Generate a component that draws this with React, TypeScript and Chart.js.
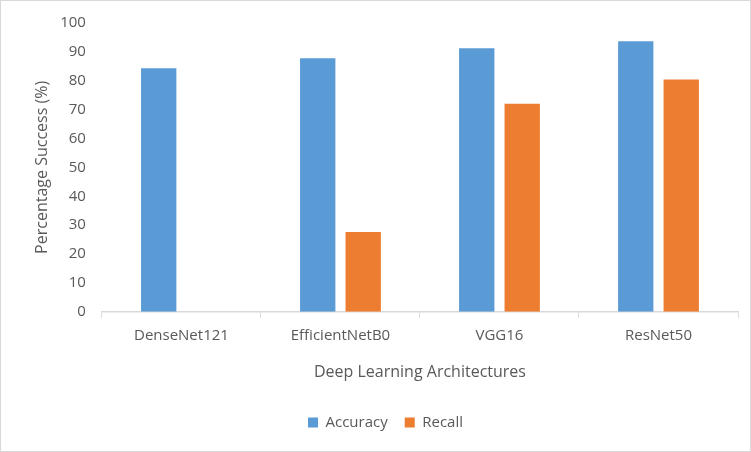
import { Chart, registerables } from "chart.js";
import React, { useEffect, useRef } from "react";

Chart.register(...registerables);

const architectures = ["DenseNet121", "EfficientNetB0", "VGG16", "ResNet50"];
const accuracyValues = [84.3, 87.8, 91.3, 93.7];
const recallValues = [null, 27.6, 72.0, 80.4];

const textColor = "#595959";
const lineColor = "#d9d9d9";
const fontFamily = "'Open Sans', 'Noto Sans', sans-serif";

const App: React.FC = () => {
  const canvasRef = useRef<HTMLCanvasElement>(null);
  const chartInstance = useRef<Chart | null>(null);

  useEffect(() => {
    const ctx = canvasRef.current?.getContext("2d");
    if (!ctx) return;

    if (chartInstance.current) {
      chartInstance.current.destroy();
    }

    chartInstance.current = new Chart(ctx, {
      type: "bar",
      data: {
        labels: architectures,
        datasets: [
          {
            label: "Accuracy",
            data: accuracyValues,
            backgroundColor: "#5b9bd5",
            categoryPercentage: 0.572,
            barPercentage: 0.777,
          },
          {
            label: "Recall",
            data: recallValues as any,
            backgroundColor: "#ed7d31",
            categoryPercentage: 0.572,
            barPercentage: 0.777,
          },
        ],
      },
      options: {
        responsive: true,
        maintainAspectRatio: false,
        animation: false,
        layout: {
          padding: { top: 22, right: 12, left: 32, bottom: 11 },
        },
        scales: {
          x: {
            grid: {
              offset: true,
              drawOnChartArea: false,
              color: lineColor,
              tickLength: 6,
            },
            border: { color: lineColor, width: 1.5 },
            ticks: {
              color: textColor,
              font: { family: fontFamily, size: 15 },
              padding: 9,
            },
            title: {
              display: true,
              text: "Deep Learning Architectures",
              color: textColor,
              font: { family: fontFamily, size: 16 },
              padding: { top: 9, bottom: 16 },
            },
          },
          y: {
            min: 0,
            max: 100,
            grid: { display: false },
            border: { display: false },
            ticks: {
              stepSize: 10,
              color: textColor,
              font: { family: fontFamily, size: 15 },
              padding: 8,
            },
            title: {
              display: true,
              text: "Percentage Success (%)",
              color: textColor,
              font: { family: fontFamily, size: 16 },
              padding: { top: 0, bottom: 0 },
            },
          },
        },
        plugins: {
          legend: {
            display: true,
            position: "bottom",
            labels: {
              boxWidth: 10,
              boxHeight: 10,
              padding: 17,
              color: textColor,
              font: { family: fontFamily, size: 15 },
            },
          },
          tooltip: { enabled: false },
        },
      },
    });

    return () => {
      chartInstance.current?.destroy();
    };
  }, []);

  return (
    <div
      style={{
        position: "fixed",
        left: 0,
        top: 0,
        width: 751,
        height: 452,
        boxSizing: "border-box",
        border: `1px solid ${lineColor}`,
        background: "#fff",
      }}
    >
      <canvas ref={canvasRef} />
    </div>
  );
};

export default App;
